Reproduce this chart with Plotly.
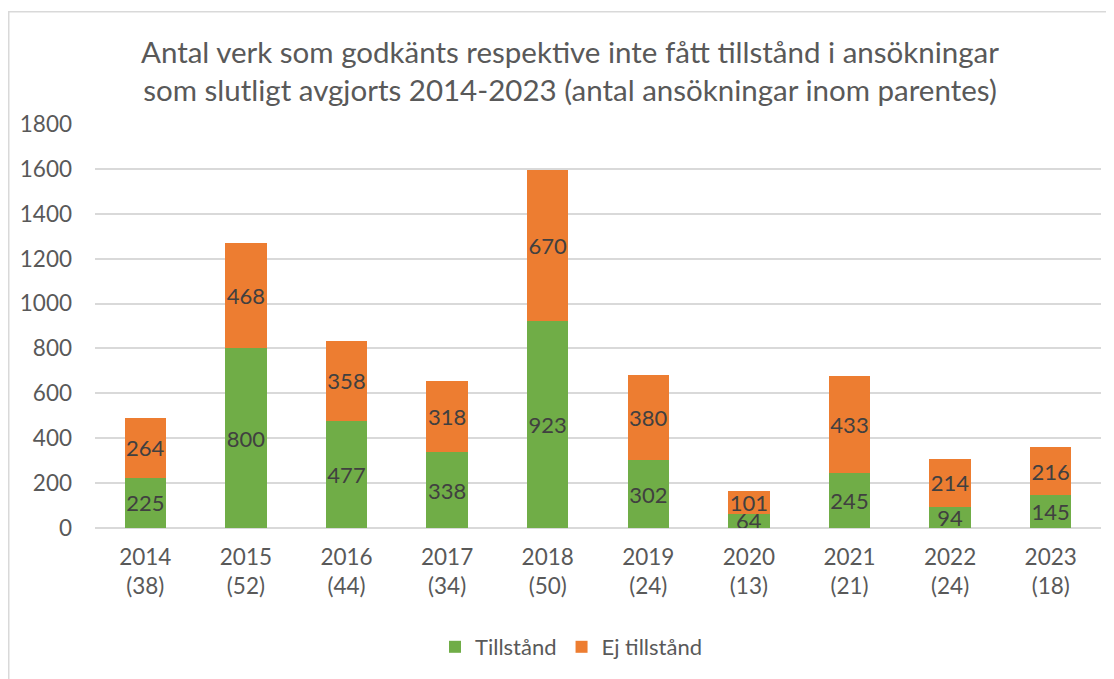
import plotly.graph_objects as go

years = ["2014", "2015", "2016", "2017", "2018", "2019", "2020", "2021", "2022", "2023"]
applications = [38, 52, 44, 34, 50, 24, 13, 21, 24, 18]
tillstand = [225, 800, 477, 338, 923, 302, 64, 245, 94, 145]
ej_tillstand = [264, 468, 358, 318, 670, 380, 101, 433, 214, 216]
y_ticks = [0, 200, 400, 600, 800, 1000, 1200, 1400, 1600, 1800]

categories = [f"{y}<br>({n})" for y, n in zip(years, applications)]

FONT = "Lato"
GREEN = "#70AD47"
ORANGE = "#ED7D31"

fig = go.Figure()
fig.add_trace(go.Bar(
    x=categories, y=tillstand, name="Tillstånd",
    marker=dict(color=GREEN, line=dict(width=0)),
    text=[str(v) for v in tillstand], textposition="inside",
    insidetextanchor="middle", textangle=0,
    textfont=dict(family=FONT, size=22, color="#404040"),
))
fig.add_trace(go.Bar(
    x=categories, y=ej_tillstand, name="Ej tillstånd",
    marker=dict(color=ORANGE, line=dict(width=0)),
    text=[str(v) for v in ej_tillstand], textposition="inside",
    insidetextanchor="middle", textangle=0,
    textfont=dict(family=FONT, size=22, color="#404040"),
))

# page body has an 8px margin, so the figure is sized to fill the rest
W, H = 1106, 671
L, R, T, B = 87, 13, 116, 150
pw, ph = W - L - R, H - T - B

def px_x(p):
    return (p - L) / pw

def px_y(p):
    return (H - B - p) / ph

fig.update_layout(
    width=W, height=H,
    barmode="stack", bargap=0.59,
    paper_bgcolor="white", plot_bgcolor="white",
    margin=dict(l=L, r=R, t=T, b=B),
    title=dict(
        text="Antal verk som godkänts respektive inte fått tillstånd i ansökningar<br>som slutligt avgjorts 2014-2023 (antal ansökningar inom parentes)",
        x=px_x(562), xref="paper", xanchor="center",
        y=1 - 55 / H, yanchor="middle",
        font=dict(family=FONT, size=29.5, color="#595959"),
    ),
    font=dict(family=FONT, color="#595959"),
    xaxis=dict(
        tickfont=dict(family=FONT, size=22.5, color="#595959"),
        showline=False, showgrid=False, ticks="", ticklabelstandoff=13,
    ),
    yaxis=dict(
        range=[0, 1800], tickvals=y_ticks,
        tickfont=dict(family=FONT, size=22.5, color="#595959"),
        showgrid=True, gridcolor="#D9D9D9", gridwidth=1.5,
        zeroline=True, zerolinecolor="#D9D9D9", zerolinewidth=1.5,
        showline=False, ticks="", ticklabelstandoff=22,
    ),
    legend=dict(
        orientation="h", x=px_x(563), xanchor="center",
        y=px_y(639), yanchor="middle",
        font=dict(family=FONT, size=22, color="#595959"),
        itemwidth=30, traceorder="normal",
    ),
    uniformtext=dict(minsize=22, mode="show"),
    shapes=[dict(
        type="rect", xref="paper", yref="paper",
        x0=px_x(0.75), x1=px_x(1130), y0=px_y(3.5), y1=px_y(700),
        line=dict(color="#D9D9D9", width=1.5), fillcolor="rgba(0,0,0,0)",
        layer="below",
    )],
)

fig.write_html("out.html")
